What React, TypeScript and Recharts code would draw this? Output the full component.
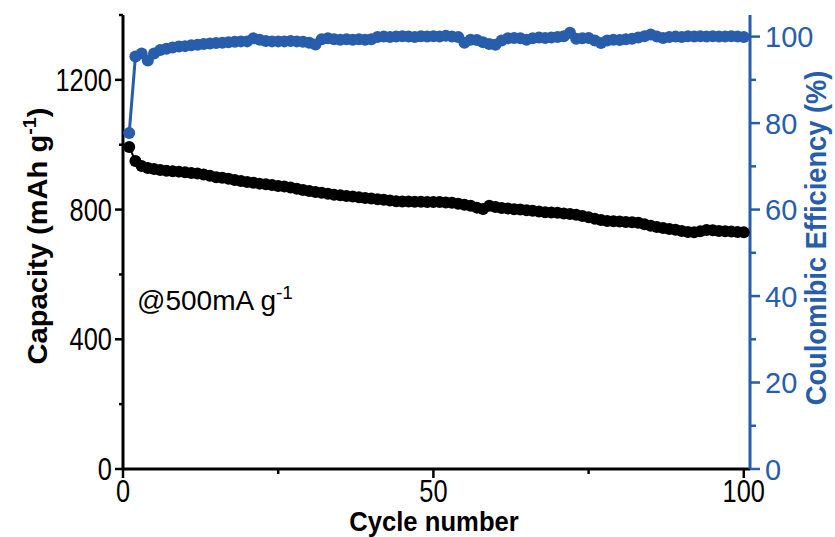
import { ComposedChart, Line, XAxis, YAxis } from "recharts";

// discharge capacity per cycle (mAh g-1), cycles 1..100
const capacity = [
  993, 950, 934, 928, 925, 922, 920, 918, 917, 915,
  913, 911, 908, 904, 900, 898, 895, 891, 888, 885,
  883, 880, 878, 876, 873, 871, 868, 864, 860, 857,
  854, 852, 849, 846, 844, 842, 840, 838, 836, 834,
  832, 830, 828, 826, 825, 825, 824, 824, 823, 823,
  823, 822, 821, 818, 815, 812, 806, 802, 812, 808,
  805, 803, 801, 800, 798, 796, 794, 792, 791, 790,
  788, 786, 784, 780, 776, 772, 768, 765, 764, 763,
  762, 761, 759, 755, 750, 746, 743, 740, 738, 734,
  731, 730, 733, 737, 736, 734, 733, 732, 731, 730,
];

// coulombic efficiency (%), cycles 1..100
const efficiency = [
  77.7, 95.4, 96.1, 94.5, 96.1, 96.9, 97.2, 97.5, 97.7, 97.8,
  98.0, 98.1, 98.3, 98.4, 98.5, 98.6, 98.7, 98.8, 98.9, 98.9,
  99.6, 99.3, 99.0, 98.9, 98.9, 98.9, 99.0, 98.9, 98.8, 98.6,
  98.2, 99.4, 99.6, 99.4, 99.3, 99.4, 99.3, 99.4, 99.3, 99.4,
  99.9, 100.0, 99.9, 100.0, 100.1, 100.0, 99.9, 100.1, 100.0, 100.1,
  100.0, 100.2, 100.0, 99.9, 98.6, 99.3, 99.2, 98.7, 98.3, 98.1,
  99.1, 99.6, 99.7, 99.6, 99.3, 99.6, 99.8, 99.7, 99.8, 99.9,
  100.1, 100.9, 99.5, 99.6, 99.7, 99.1, 98.5, 99.1, 99.3, 99.2,
  99.4, 99.5, 99.8, 100.1, 100.5, 100.0, 99.7, 99.9, 100.0, 99.9,
  100.1, 100.0, 100.1, 100.0, 100.1, 100.0, 100.0, 100.1, 100.0, 99.9,
];

const xTicks = [0, 25, 50, 75, 100];
const xMajor = [0, 50, 100];
const capTicks = [0, 200, 400, 600, 800, 1000, 1200, 1400];
const capMajor = [0, 400, 800, 1200];
const ceTicks = [0, 10, 20, 30, 40, 50, 60, 70, 80, 90, 100];
const ceMajor = [0, 20, 40, 60, 80, 100];

const data = capacity.map((c, i) => ({ cycle: i + 1, capacity: c, ce: efficiency[i] }));

const BLUE = "#275DAB";
const FONT = "'Liberation Sans', Arial, sans-serif";

const LeftTick = (props: any) => {
  const { x, y, payload } = props;
  const major = capMajor.includes(payload.value);
  return (
    <g>
      <line x1={x - (major ? 8 : 4)} x2={x} y1={y} y2={y} stroke="#000" strokeWidth={2.5} />
      {major && (
        <text transform={`translate(${x - 11},${y}) scale(0.82,1)`} textAnchor="end" dy={11}
          fontSize={31} fontFamily={FONT} fill="#000">
          {payload.value}
        </text>
      )}
    </g>
  );
};

const RightTick = (props: any) => {
  const { x, y, payload } = props;
  const major = ceMajor.includes(payload.value);
  return (
    <g>
      <line x1={x} x2={x + (major ? 10 : 6)} y1={y} y2={y} stroke={BLUE} strokeWidth={2.5} />
      {major && (
        <text x={x + 15} y={y} dy={10.5} textAnchor="start" fontSize={29} fontFamily={FONT} fill={BLUE}>
          {payload.value}
        </text>
      )}
    </g>
  );
};

const BottomTick = (props: any) => {
  const { x, y, payload } = props;
  const major = xMajor.includes(payload.value);
  return (
    <g>
      <line x1={x} x2={x} y1={y} y2={y + (major ? 9 : 5)} stroke="#000" strokeWidth={2.5} />
      {major && (
        <text transform={`translate(${x},${y + 22}) scale(0.82,1)`} textAnchor="middle" dy={11}
          fontSize={31} fontFamily={FONT} fill="#000">
          {payload.value}
        </text>
      )}
    </g>
  );
};

const TopTick = (props: any) => {
  const { x, y } = props;
  return <line x1={x} x2={x} y1={y} y2={y + 4} stroke="#000" strokeWidth={2} />;
};

const LeftTitle = () => (
  <g>
    <text transform="translate(47,236) rotate(-90) scale(1.04,1)" textAnchor="middle"
      fontSize={28} fontWeight="bold" fontFamily={FONT} fill="#000">
      Capacity (mAh g<tspan dy={-11} fontSize={19}>-1</tspan><tspan dy={11}>)</tspan>
    </text>
    <text x={137} y={310} fontSize={28} fontFamily={FONT} fill="#000">
      @500mA g<tspan dy={-11} fontSize={19}>-1</tspan>
    </text>
  </g>
);

const RightTitle = () => (
  <text transform="translate(826,238) rotate(-90) scale(0.94,1)" textAnchor="middle"
    fontSize={29} fontWeight="bold" fontFamily={FONT} fill={BLUE}>
    Coulomibic Efficiency (%)
  </text>
);

const BottomTitle = () => (
  <text transform="translate(434,531) scale(0.95,1)" textAnchor="middle"
    fontSize={27} fontWeight="bold" fontFamily={FONT} fill="#000">
    Cycle number
  </text>
);

export default function App() {
  return (
    <div style={{ position: "absolute", left: 0, top: 0, width: 835, height: 537, background: "#fff" }}>
      <ComposedChart width={835} height={537} data={data} margin={{ top: 15, right: 0, bottom: 0, left: 0 }}>
        <XAxis xAxisId="main" type="number" dataKey="cycle" domain={[0, 101]} ticks={xTicks}
          height={68} tickSize={0} tickMargin={0} tickLine={false} tick={<BottomTick />}
          axisLine={{ stroke: "#000", strokeWidth: 3 }} label={<BottomTitle />} />
        <XAxis xAxisId="top" orientation="top" type="number" dataKey="cycle" domain={[0, 101]}
          ticks={[25, 50, 75]} height={0} tickSize={0} tickMargin={0} tickLine={false}
          tick={<TopTick />} axisLine={{ stroke: "#000", strokeWidth: 3 }} />
        <YAxis yAxisId="cap" domain={[0, 1400]} ticks={capTicks} width={123} tickSize={0}
          tickMargin={0} tickLine={false} tick={<LeftTick />}
          axisLine={{ stroke: "#000", strokeWidth: 3 }} label={<LeftTitle />} />
        <YAxis yAxisId="ce" orientation="right" domain={[0, 105]} ticks={ceTicks} width={85}
          tickSize={0} tickMargin={0} tickLine={false} tick={<RightTick />}
          axisLine={{ stroke: BLUE, strokeWidth: 3 }} label={<RightTitle />} />
        <Line xAxisId="main" yAxisId="cap" dataKey="capacity" stroke="#000" strokeWidth={2}
          dot={{ r: 6, fill: "#000", stroke: "#000", strokeWidth: 0 }} activeDot={false}
          isAnimationActive={false} />
        <Line xAxisId="main" yAxisId="ce" dataKey="ce" stroke={BLUE} strokeWidth={3}
          dot={{ r: 6, fill: BLUE, stroke: BLUE, strokeWidth: 0 }} activeDot={false}
          isAnimationActive={false} />
      </ComposedChart>
    </div>
  );
}
